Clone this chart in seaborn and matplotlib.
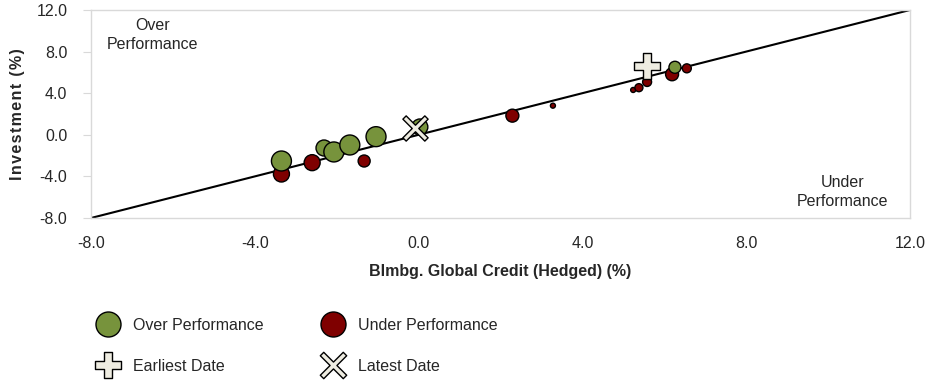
import numpy as np
import pandas as pd
import seaborn as sns
import matplotlib.pyplot as plt
from matplotlib.lines import Line2D
from matplotlib.path import Path

# Bubble data (benchmark return, investment return, bubble weight)
under_x = [-3.35, -2.60, -1.33, 2.29, 3.28, 5.24, 5.38, 5.58, 6.19, 6.55]
under_y = [-3.77, -2.68, -2.52, 1.84, 2.80, 4.31, 4.53, 5.08, 5.82, 6.39]
under_w = [64, 64, 36, 42, 6, 6, 16, 20, 42, 20]

over_x = [-3.35, -2.31, -2.07, -1.68, -1.04, 0.03, 6.26]
over_y = [-2.52, -1.27, -1.65, -0.98, -0.18, 0.75, 6.49]
over_w = [100, 64, 100, 100, 100, 64, 36]

earliest = (5.58, 6.64)
latest = (-0.09, 0.65)

ticks = [-8, -4, 0, 4, 8, 12]

green = "#77933C"
red = "#7F0000"
beige = "#EEECE1"
FS = 11.5


def cross_path(t, angle=0):
    v = np.array([(-t, 1), (t, 1), (t, t), (1, t), (1, -t), (t, -t), (t, -1),
                  (-t, -1), (-t, -t), (-1, -t), (-1, t), (-t, t), (-t, 1)])
    a = np.deg2rad(angle)
    rot = np.array([[np.cos(a), -np.sin(a)], [np.sin(a), np.cos(a)]])
    return Path(v @ rot.T, closed=True)


plus_m = cross_path(0.28)
x_m = cross_path(0.15, 45)

df = pd.concat([
    pd.DataFrame({"x": under_x, "y": under_y, "w": under_w, "grp": "Under Performance"}),
    pd.DataFrame({"x": over_x, "y": over_y, "w": over_w, "grp": "Over Performance"}),
], ignore_index=True)

sns.set_style("white")
plt.rcParams["font.family"] = ["Liberation Sans", "DejaVu Sans"]

fig = plt.figure(figsize=(9.26, 3.84), dpi=100)
ax = fig.add_axes([0.0983, 0.4323, 0.8844, 0.5417])

ax.plot([-8, 12], [-8, 12], color="black", lw=1.5, zorder=1)

sns.scatterplot(data=df, x="x", y="y", hue="grp", size="w", sizes=(13, 207),
                palette={"Over Performance": green, "Under Performance": red},
                edgecolor="black", linewidth=1, legend=False, ax=ax, zorder=3)

ax.scatter([earliest[0]], [earliest[1]], marker=plus_m, s=330, c=beige,
           edgecolors="black", linewidths=1, zorder=4)
ax.scatter([latest[0]], [latest[1]], marker=x_m, s=330, c=beige,
           edgecolors="black", linewidths=1, zorder=4)

ax.set_xlim(-8, 12)
ax.set_ylim(-8, 12)
ax.set_xticks(ticks)
ax.set_yticks(ticks)
ax.set_xticklabels([f"{t:.1f}" for t in ticks], fontsize=FS)
ax.set_yticklabels([f"{t:.1f}" for t in ticks], fontsize=FS)
ax.tick_params(axis="x", length=0, pad=13)
ax.tick_params(axis="y", length=6, color="#d9d9d9", pad=11, left=True)
for s in ax.spines.values():
    s.set_color("#d9d9d9")
    s.set_linewidth(1)

ax.set_xlabel("Blmbg. Global Credit (Hedged) (%)", fontsize=FS, fontweight="bold", labelpad=9)
ax.set_ylabel("\u200a".join("Investment (%)"), fontsize=FS, fontweight="bold", labelpad=8)

ax.text(0.075, 0.878, "Over\nPerformance", transform=ax.transAxes, ha="center", va="center",
        fontsize=FS, linespacing=1.35)
ax.text(0.918, 0.125, "Under\nPerformance", transform=ax.transAxes, ha="center", va="center",
        fontsize=FS, linespacing=1.35)

handles = [
    Line2D([], [], ls="", marker="o", ms=18, mfc=green, mec="black", mew=1),
    Line2D([], [], ls="", marker=plus_m, ms=19, mfc=beige, mec="black", mew=1),
    Line2D([], [], ls="", marker="o", ms=18, mfc=red, mec="black", mew=1),
    Line2D([], [], ls="", marker=x_m, ms=19, mfc=beige, mec="black", mew=1),
]
labels = ["Over Performance", "Earliest Date", "Under Performance", "Latest Date"]
fig.legend(handles, labels, ncol=2, loc="upper left", bbox_to_anchor=(0.1026, 0.172),
           frameon=False, fontsize=FS, labelspacing=1.6, handletextpad=0.8,
           columnspacing=3.5, handlelength=1.6, borderpad=0, borderaxespad=0)

fig.savefig("out.png", dpi=100)
